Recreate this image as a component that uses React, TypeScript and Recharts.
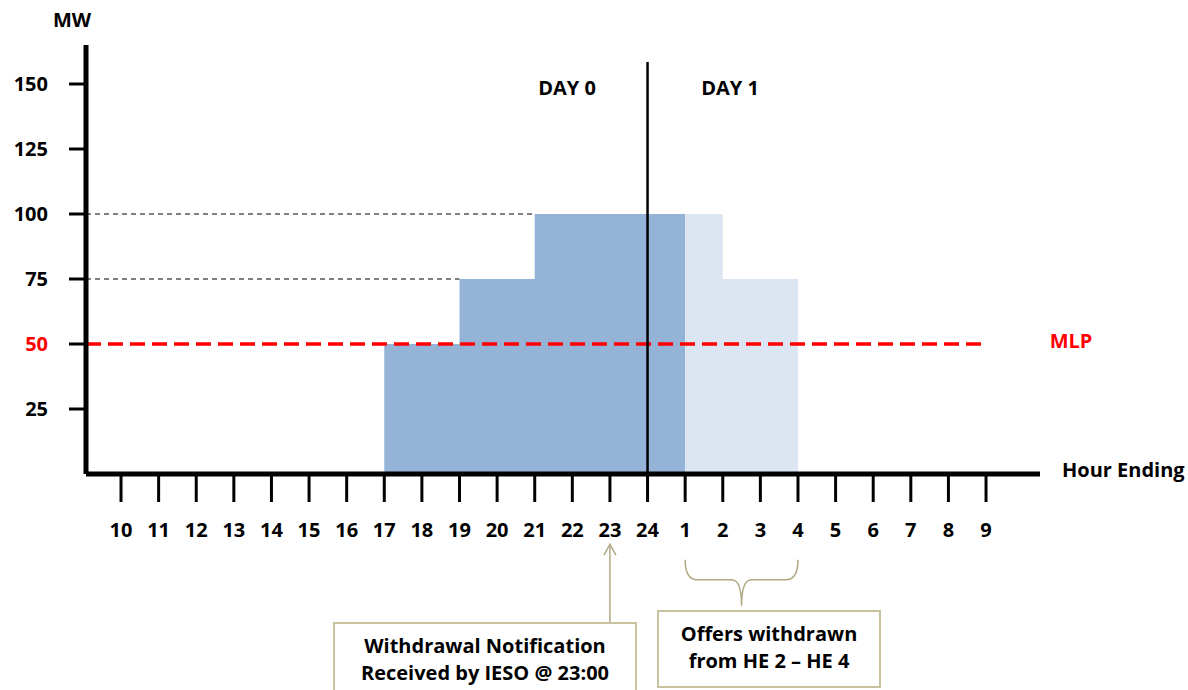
import { Area, ComposedChart, ReferenceLine, XAxis, YAxis } from "recharts";

const hourLabels = ["10", "11", "12", "13", "14", "15", "16", "17", "18", "19", "20", "21", "22", "23", "24", "1", "2", "3", "4", "5", "6", "7", "8", "9"];
// MW offered per hour ending (value sits on the tick that ends the hour)
const day0MW = [null, null, null, null, null, null, null, 0, 50, 50, 75, 75, 100, 100, 100, 100, null, null, null, null, null, null, null, null];
const withdrawnMW = [null, null, null, null, null, null, null, null, null, null, null, null, null, null, null, 0, 100, 75, 75, null, null, null, null, null];
const yTicks = [25, 50, 75, 100, 125, 150];
const mlpMW = 50;

const data = hourLabels.map((hour, i) => ({ x: i, hour, day0: day0MW[i], withdrawn: withdrawnMW[i] }));

const FONT = "'Open Sans', Lato, sans-serif";
const FS = 20;
const TAN = "#b1a983";
const X_DOMAIN: [number, number] = [-0.931, 24.435];

function YTick({ x, y, payload }: any) {
  return (
    <text x={x} y={y} dy="0.355em" textAnchor="end" fontFamily={FONT} fontWeight={700} fontSize={FS} fill={payload.value === mlpMW ? "#ff0000" : "#000"}>
      {payload.value}
    </text>
  );
}

function Brace({ x1, y1, x2 }: any) {
  const mid = (x1 + x2) / 2;
  const h = y1 + 20;
  const d = `M${x1},${y1} Q${x1},${h} ${x1 + 12},${h} L${mid - 10},${h} Q${mid},${h} ${mid},${y1 + 46} Q${mid},${h} ${mid + 10},${h} L${x2 - 12},${h} Q${x2},${h} ${x2},${y1}`;
  return <path d={d} fill="none" stroke={TAN} strokeWidth={1.5} />;
}

function UpArrow({ x1, y1, x2, y2 }: any) {
  return (
    <g stroke={TAN} strokeWidth={1.5} fill="none">
      <line x1={x1} y1={y1} x2={x2} y2={y2} />
      <polyline points={`${x2 - 6},${y2 + 11} ${x2},${y2} ${x2 + 6},${y2 + 11}`} />
    </g>
  );
}

function Label({ x, y, children, color = "#000", anchor = "center" }: any) {
  return (
    <div
      style={{
        position: "absolute",
        left: x,
        top: y,
        transform: anchor === "left" ? "translate(0,-50%)" : "translate(-50%,-50%)",
        fontFamily: FONT,
        fontWeight: 700,
        fontSize: FS,
        lineHeight: 1,
        whiteSpace: "nowrap",
        color,
      }}
    >
      {children}
    </div>
  );
}

function NoteBox({ left, top, width, height, lines }: any) {
  return (
    <div
      style={{
        position: "absolute",
        left,
        top,
        width,
        height,
        boxSizing: "border-box",
        border: `2px solid #c9c29f`,
        background: "#fff",
        fontFamily: FONT,
        fontWeight: 700,
        fontSize: FS,
        lineHeight: "27px",
        textAlign: "center",
        paddingTop: 8,
        whiteSpace: "nowrap",
      }}
    >
      {lines.map((l: string) => (
        <div key={l}>{l}</div>
      ))}
    </div>
  );
}

export default function App() {
  return (
    <div style={{ position: "absolute", left: 0, top: 0, width: 1188, height: 690, overflow: "hidden", background: "#fff" }}>
      <ComposedChart width={1188} height={690} data={data} margin={{ top: 45, right: 148, bottom: 156, left: 0 }}>
        <XAxis
          dataKey="x"
          type="number"
          domain={X_DOMAIN}
          allowDataOverflow
          ticks={hourLabels.map((_, i) => i)}
          tickFormatter={(i: number) => hourLabels[i]}
          interval={0}
          height={60}
          axisLine={{ stroke: "#000", strokeWidth: 5 }}
          tickLine={{ stroke: "#000", strokeWidth: 3 }}
          tickSize={28}
          tickMargin={21}
          tick={{ fill: "#000", fontFamily: FONT, fontWeight: 700, fontSize: FS }}
        />
        <YAxis
          type="number"
          domain={[0, 165]}
          allowDataOverflow
          ticks={yTicks}
          interval={0}
          width={86}
          axisLine={{ stroke: "#000", strokeWidth: 5 }}
          tickLine={{ stroke: "#000", strokeWidth: 3 }}
          tickSize={17}
          tickMargin={21}
          tick={<YTick />}
        />
        <ReferenceLine segment={[{ x: X_DOMAIN[0], y: 100 }, { x: 11, y: 100 }]} stroke="#555" strokeWidth={1.3} strokeDasharray="5 4" ifOverflow="visible" />
        <ReferenceLine segment={[{ x: X_DOMAIN[0], y: 75 }, { x: 9, y: 75 }]} stroke="#555" strokeWidth={1.3} strokeDasharray="5 4" ifOverflow="visible" />
        <Area type="stepBefore" dataKey="day0" stroke="none" fill="#95b3d7" fillOpacity={1} isAnimationActive={false} />
        <Area type="stepBefore" dataKey="withdrawn" stroke="none" fill="#dce6f2" fillOpacity={1} isAnimationActive={false} />
        <ReferenceLine segment={[{ x: X_DOMAIN[0], y: mlpMW }, { x: 23, y: mlpMW }]} stroke="#ff0000" strokeWidth={3.5} strokeDasharray="15 7" ifOverflow="visible" />
        <ReferenceLine segment={[{ x: 14, y: 0 }, { x: 14, y: 158.5 }]} stroke="#000" strokeWidth={2.5} ifOverflow="visible" />
        <ReferenceLine segment={[{ x: 15, y: -33 }, { x: 18, y: -33 }]} ifOverflow="visible" shape={(p: any) => <Brace {...p} />} />
        <ReferenceLine segment={[{ x: 13, y: -57 }, { x: 13, y: -27 }]} ifOverflow="visible" shape={(p: any) => <UpArrow {...p} />} />
      </ComposedChart>

      <Label x={72} y={20}>MW</Label>
      <Label x={567} y={88}>DAY 0</Label>
      <Label x={730} y={88}>DAY 1</Label>
      <Label x={1071} y={341} color="#ff0000">MLP</Label>
      <Label x={1062} y={470} anchor="left">Hour Ending</Label>

      <NoteBox left={333} top={622} width={304} height={72} lines={["Withdrawal Notification", "Received by IESO @ 23:00"]} />
      <NoteBox left={657} top={610} width={224} height={78} lines={["Offers withdrawn", "from HE 2 \u2013 HE 4"]} />
    </div>
  );
}
